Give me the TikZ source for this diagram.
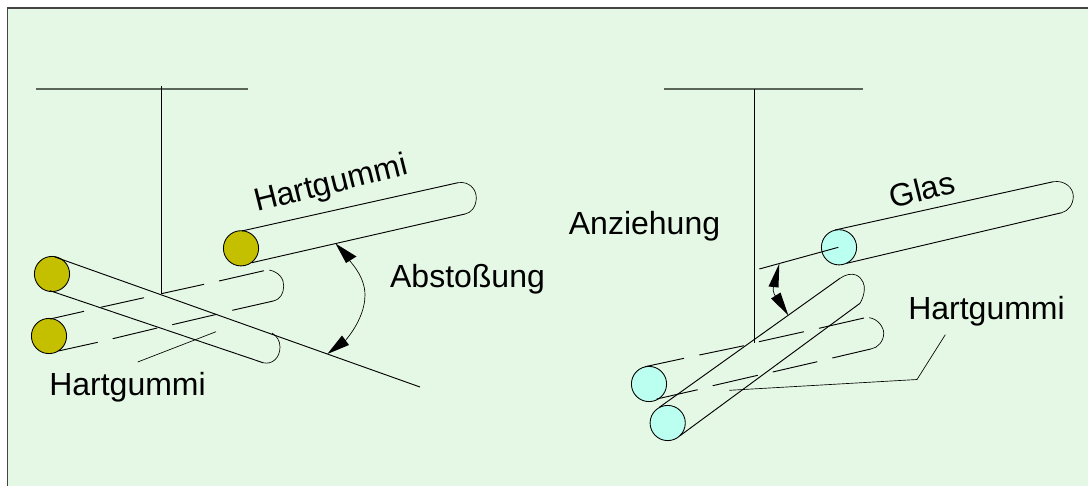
\documentclass[tikz,border=0pt]{standalone}
\usepackage{fontspec}
\setmainfont{Liberation Sans}
\definecolor{bgpale}{HTML}{E5F8E6}
\definecolor{olivefill}{HTML}{C4C000}
\definecolor{cyanfill}{HTML}{BBFFF0}
\definecolor{framegrey}{HTML}{444444}
\definecolor{bargrey}{HTML}{5A665A}
\tikzset{
  rodline/.style={draw=black,line width=0.7pt},
  thin line/.style={draw=black,line width=0.5pt},
  label text/.style={font=\fontsize{24pt}{26pt}\selectfont,text=black,inner sep=0pt,anchor=center},
  oliverod/.style={circle,draw=black,line width=0.65pt,fill=olivefill,minimum size=26.4pt,inner sep=0pt},
  cyanrod/.style={circle,draw=black,line width=0.65pt,fill=cyanfill,minimum size=26.4pt,inner sep=0pt},
  headtip/.style={fill=black,draw=none}
}
\begin{document}
\begin{tikzpicture}[x=0.75pt,y=-0.75pt]
\useasboundingbox (0,0) rectangle (1088,486);
\fill[white] (0,0) rectangle (1088,486);
\fill[bgpale] (7.5,8) rectangle (1088,486);
\draw[framegrey,line width=1.1pt] (7.5,486) -- (7.5,8) -- (1088,8);

% left suspension
\draw[bargrey,line width=0.9pt] (36,89) -- (248,89);
\draw[rodline] (161,86) -- (161,294);

% left back rod (dashed)
\node[oliverod] (rodB) at (49,336) {};
\draw[rodline] (50,319) -- (84,311.3) (100.7,307.3) -- (144,297.7) (161.3,293.7) -- (204,284.3) (219,281) -- (264,270.7);
\draw[rodline] (58.3,351) -- (97.7,342.3) (112.7,338.7) -- (157.3,328) (172.3,324.7) -- (216.7,314.3) (232.3,310.3) -- (273.3,301);
\draw[thin line] (269.3,270) .. controls (279,272) and (284,279) .. (283.7,286) .. controls (283.5,293) and (281,299) .. (273.3,301);

% left front rod
\node[oliverod] (rodA) at (52,274) {};
\draw[rodline] (55,257) -- (420,387);
\draw[rodline] (50,290.7) -- (263,362.7);
\draw[thin line] (263,362.7) .. controls (272,365) and (280,358) .. (280,347) .. controls (280,341) and (277,336) .. (272,333);

% left upper rod
\node[oliverod] (rodC) at (241,248.3) {};
\draw[rodline] (241.7,231) -- (458,182.7);
\draw[rodline] (251.7,262.7) -- (465,214);
\draw[thin line] (458,182.7) .. controls (469,181) and (476.5,189) .. (476.3,198.3) .. controls (476,207) and (471,213) .. (465,214);

% left leader
\draw[thin line] (137.7,362) -- (216,331.7);

% repulsion arc
\draw[thin line] (349,260) .. controls (360,272) and (365,284) .. (365,295) .. controls (365,310) and (357,327) .. (345,341);
\fill[headtip] (335.5,243.5) -- (356.5,256.5) -- (346,263) -- cycle;
\fill[headtip] (327.3,354) -- (342,335.5) -- (349,345) -- cycle;

% right suspension
\draw[bargrey,line width=0.9pt] (664,89) -- (863,89);
\draw[rodline] (754,89) -- (754,343.3);

% right back rod (dashed)
\node[cyanrod] (rodF) at (649,384) {};
\draw[rodline] (645,366.7) -- (684,358.3) (699.3,355) -- (744,345.7) (759,341.7) -- (804,331.7) (819,328.3) -- (864,318);
\draw[rodline] (656.7,399) -- (697.7,389.7) (712.7,385.7) -- (757.7,375.3) (772.7,372) -- (817.3,361.7) (832.3,358) -- (870.7,349);
\draw[thin line] (869.3,317.7) .. controls (878,319) and (883.7,327) .. (883.7,333.3) .. controls (883.7,341) and (878,348) .. (870.7,349);

% right front rod
\node[cyanrod] (rodE) at (667.7,423) {};
\draw[rodline] (659.3,407.3) -- (840,278.3);
\draw[rodline] (680,435.7) -- (860,303.3);
\draw[thin line] (840,278.3) .. controls (846,274) and (852,273.5) .. (856,275) .. controls (863,278) and (865,286) .. (864.3,290) .. controls (864,295) and (862,300) .. (860,303.3);

% right upper rod
\node[cyanrod] (rodD) at (839,247.3) {};
\draw[rodline] (835,230) -- (1053.3,181.7);
\draw[rodline] (846.7,263.3) -- (1061.7,212.7);
\draw[thin line] (1053.3,181.7) .. controls (1065,180) and (1073.5,188) .. (1073.3,196.7) .. controls (1073,205) and (1068,211) .. (1061.7,212.7);
\draw[rodline] (759.3,269) -- (838.3,247.3);

% right leader
\draw[thin line] (729.3,390.3) -- (917,379.5) -- (945.3,334.7);

% attraction arrow
\draw[thin line] (774,285) .. controls (772.5,289) and (773,293) .. (776,297);
\fill[headtip] (779.3,263.5) -- (768.5,286.5) -- (778.5,287.5) -- cycle;
\fill[headtip] (788.3,315.3) -- (771,298.5) -- (780.5,292.5) -- cycle;

% labels
\node[label text] (labA) at (127.5,387.5) {Hartgummi};
\node[label text,rotate=14] (labC) at (331,185) {Hartgummi};
\node[label text] (labB) at (467.5,279.5) {Abstoßung};
\node[label text] (labD) at (644.5,226.5) {Anziehung};
\node[label text,rotate=14] (labE) at (922,189) {Glas};
\node[label text] (labF) at (986.5,311) {Hartgummi};
\end{tikzpicture}
\end{document}
